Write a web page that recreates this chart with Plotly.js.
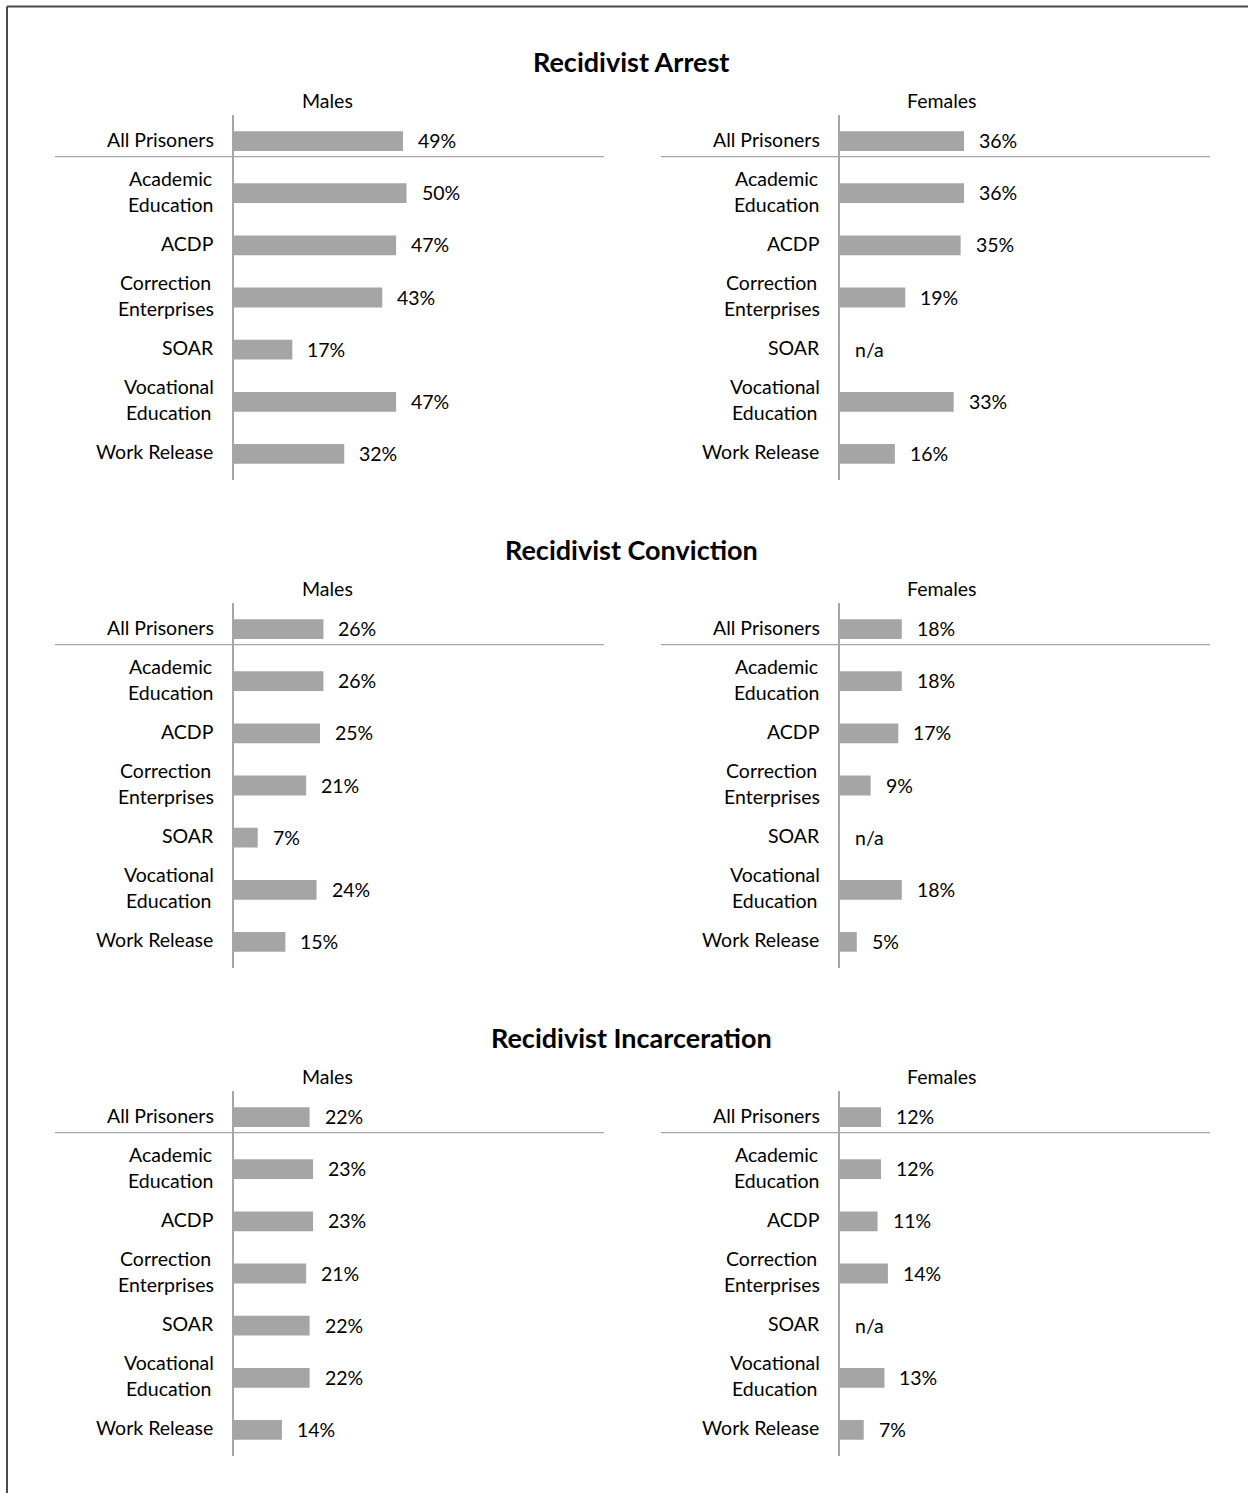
<!DOCTYPE html>
<html>
<head>
<meta charset="utf-8">
<script src="https://cdn.plot.ly/plotly-3.0.1.min.js"></script>
<style>
  html, body { margin: 0; padding: 0; background: #ffffff; }
  #chart { width: 1248px; height: 1493px; }
</style>
</head>
<body>
<div id="chart"></div>
<script>
// ---------------- DATA ----------------
const categories = ['All Prisoners', 'Academic\nEducation', 'ACDP', 'Correction\nEnterprises', 'SOAR', 'Vocational\nEducation', 'Work Release'];
const sectionTitles = ['Recidivist Arrest', 'Recidivist Conviction', 'Recidivist Incarceration'];
const groupTitles = ['Males', 'Females'];

const arrestMales = [49, 50, 47, 43, 17, 47, 32];
const arrestFemales = [36, 36, 35, 19, null, 33, 16];
const convictionMales = [26, 26, 25, 21, 7, 24, 15];
const convictionFemales = [18, 18, 17, 9, null, 18, 5];
const incarcerationMales = [22, 23, 23, 21, 22, 22, 14];
const incarcerationFemales = [12, 12, 11, 14, null, 13, 7];

const seriesBySection = [
  [arrestMales, arrestFemales],
  [convictionMales, convictionFemales],
  [incarcerationMales, incarcerationFemales]
];

// ---------------- LAYOUT HELPERS ----------------
const W = 1248, H = 1493;
const px = x => x / W;
const py = y => 1 - y / H;
const FONT = 'Lato, "Open Sans", "Liberation Sans", sans-serif';
const FS = 19.5;
const BAR_COLOR = '#a5a5a5';
const LINE_COLOR = '#a6a6a6';
const SECTION_STEP = 488;
const AXIS_X = [233.5, 839.5];
const AXIS_RIGHT = [604, 1210];
const SEP_LEFT = [55, 661];
const GROUP_TITLE_X = [327, 942];
const PX_PER_PCT = 3.46;

const ctx = document.createElement('canvas').getContext('2d');
ctx.font = FS + 'px ' + FONT;
const measure = t => ctx.measureText(t).width;

const catKeys = categories.map(c => c.replace('\n', ' '));

const data = [];
const layout = {
  width: W, height: H,
  margin: {l: 0, r: 0, t: 0, b: 0},
  paper_bgcolor: '#ffffff',
  plot_bgcolor: 'rgba(0,0,0,0)',
  showlegend: false,
  font: {family: FONT, size: FS, color: '#000000'},
  annotations: [],
  shapes: []
};

// frame (top and left edges visible in the picture)
layout.shapes.push({type: 'line', xref: 'paper', yref: 'paper', x0: px(7), x1: 1.01, y0: py(6.5), y1: py(6.5), line: {color: '#4a4a4a', width: 2}});
layout.shapes.push({type: 'line', xref: 'paper', yref: 'paper', x0: px(7), x1: px(7), y0: py(6.5), y1: -0.01, line: {color: '#4a4a4a', width: 2}});

for (let s = 0; s < 3; s++) {
  const off = s * SECTION_STEP;
  const yTop = 115 + off, yBot = 480 + off;

  layout.annotations.push({
    xref: 'paper', yref: 'paper', x: px(631), y: py(61.5 + off),
    text: '<b>' + sectionTitles[s] + '</b>', showarrow: false,
    xanchor: 'center', yanchor: 'middle',
    font: {family: FONT, size: 27, color: '#000000'}
  });

  for (let g = 0; g < 2; g++) {
    const idx = s * 2 + g + 1;
    const xa = 'xaxis' + (idx === 1 ? '' : idx);
    const ya = 'yaxis' + (idx === 1 ? '' : idx);
    const xr = 'x' + (idx === 1 ? '' : idx);
    const yr = 'y' + (idx === 1 ? '' : idx);
    const vals = seriesBySection[s][g];

    layout[xa] = {
      domain: [px(AXIS_X[g]), px(AXIS_RIGHT[g])],
      range: [0, (AXIS_RIGHT[g] - AXIS_X[g]) / PX_PER_PCT],
      visible: false, fixedrange: true, anchor: yr
    };
    layout[ya] = {
      domain: [py(yBot), py(yTop)],
      type: 'category',
      categoryorder: 'array', categoryarray: catKeys,
      range: [6.5, -0.5],
      showline: true, linecolor: LINE_COLOR, linewidth: 1.3,
      showticklabels: false, ticks: '', showgrid: false, zeroline: false,
      fixedrange: true, anchor: xr
    };

    data.push({
      type: 'bar', orientation: 'h',
      x: vals, y: catKeys,
      xaxis: xr, yaxis: yr,
      marker: {color: BAR_COLOR, line: {width: 0}},
      width: 0.38,
      hoverinfo: 'skip'
    });

    // value labels
    vals.forEach((v, i) => {
      layout.annotations.push({
        xref: xr, yref: yr, x: v === null ? 0 : v, y: catKeys[i],
        text: v === null ? 'n/a' : v + '%',
        showarrow: false, xanchor: 'left', yanchor: 'middle',
        xshift: 13, yshift: 0.5,
        font: {family: FONT, size: FS, color: '#000000'}
      });
    });

    // category labels
    categories.forEach((c, i) => {
      const lines = c.split('\n');
      const rightX = AXIS_X[g] - 20;
      const blockW = Math.max(...lines.map(measure));
      const cx = rightX - blockW / 2;
      const n = lines.length;
      lines.forEach((ln, k) => {
        layout.annotations.push({
          xref: 'paper', yref: yr, x: px(cx), y: catKeys[i],
          text: ln, showarrow: false, xanchor: 'center', yanchor: 'middle',
          yshift: -((k - (n - 1) / 2) * 26) + 2,
          font: {family: FONT, size: FS, color: '#000000'}
        });
      });
    });

    // group title
    layout.annotations.push({
      xref: 'paper', yref: 'paper', x: px(GROUP_TITLE_X[g]), y: py(100.5 + off),
      text: groupTitles[g], showarrow: false, xanchor: 'center', yanchor: 'middle',
      font: {family: FONT, size: FS, color: '#000000'}
    });

    // separator line below "All Prisoners"
    layout.shapes.push({
      type: 'line', xref: 'paper', yref: yr,
      x0: px(SEP_LEFT[g]), x1: px(AXIS_RIGHT[g]), y0: 0.3, y1: 0.3,
      line: {color: LINE_COLOR, width: 1.3}
    });
  }
}

Plotly.newPlot('chart', data, layout, {staticPlot: true, displayModeBar: false});
</script>
</body>
</html>
